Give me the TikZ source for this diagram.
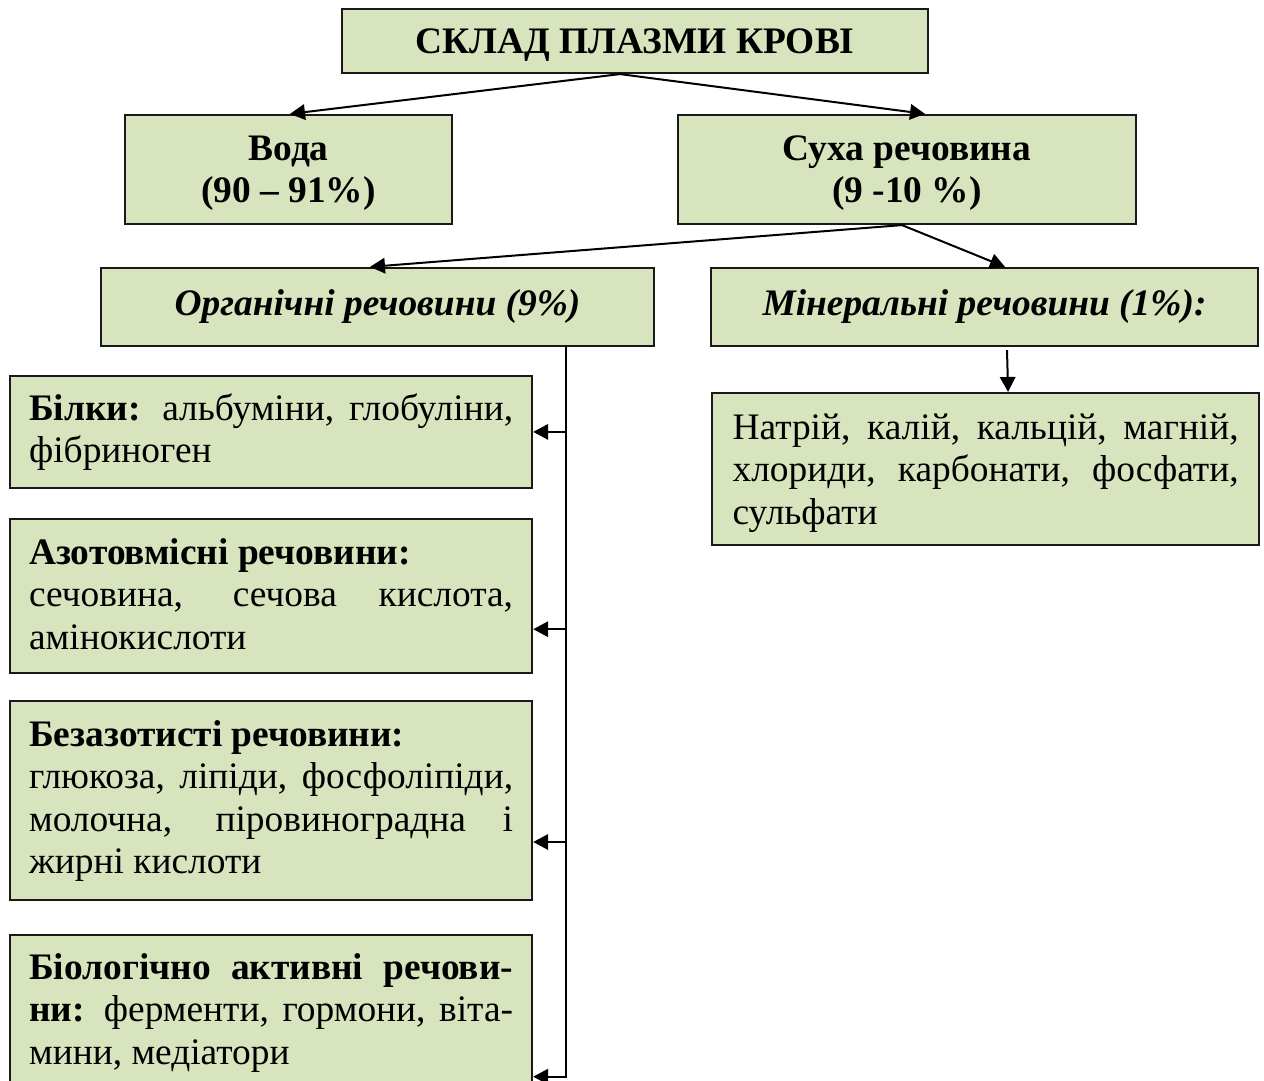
\documentclass[tikz,border=0pt]{standalone}
\usepackage{fontspec}
\setmainfont{Liberation Serif}
\usetikzlibrary{arrows.meta}
\definecolor{boxfill}{HTML}{D7E4BD}
\hyphenpenalty=10000
\tolerance=10000
\newcommand\topst[1]{\leavevmode\rule{0pt}{#1pt}}
\newcommand\botst[1]{\rule[-#1pt]{0pt}{#1pt}}
\begin{document}
\begin{tikzpicture}[x=1pt,y=1pt,
  box/.style={draw=black!90, line width=2.2pt, fill=boxfill, inner sep=0pt},
  cbox/.style={box, align=center, font=\bfseries\fontsize{37.4}{42}\selectfont},
  ibox/.style={cbox, font=\bfseries\itshape\fontsize{37.4}{42.5}\selectfont},
  tbox/.style={box, anchor=north west, align=justify, inner xsep=19pt, text width=484pt, font=\fontsize{37.4}{42.6}\selectfont},
  arr/.style={line width=2pt, -{Triangle[length=15pt,width=15.5pt]}}]
\clip (0,0) rectangle (1264,-1081);
\fill[white] (0,0) rectangle (1264,-1081);

\node[cbox, text depth=0pt, minimum width=586pt, minimum height=64pt] (title) at (635,-41) {СКЛАД ПЛАЗМИ КРОВІ};
\node[cbox, text depth=0pt, minimum width=327pt, minimum height=109pt] (voda) at (288.5,-169.5) {Вода\\(90 – 91\%)};
\node[cbox, text depth=0pt, minimum width=458pt, minimum height=109pt] (sukha) at (907,-169.5) {Суха речовина\\(9 -10 \%)};
\node[ibox, minimum width=553pt, minimum height=78pt] (org) at (377.5,-307) {Органічні речовини (9\%)};
\node[ibox, minimum width=547pt, minimum height=78pt] (min) at (984.5,-307) {Мінеральні речовини (1\%):};

\node[tbox, inner xsep=20.5pt, text width=506pt] (natr) at (711,-392) {\topst{46}Натрій, калій, кальцій, магній,\linebreak хлориди, карбонати, фосфати,\linebreak сульфати\botst{21}};

\node[tbox] (bilky) at (9,-375) {\topst{44}\textbf{Білки:} альбуміни, глобуліни,\linebreak фібриноген\botst{25}};
\node[tbox] (azot) at (9,-518) {\topst{45}\textbf{Азотовмісні речовини:}\\ сечовина, сечова кислота,\linebreak амінокислоти\botst{24}};
\node[tbox] (bezaz) at (9,-700) {\topst{45}\textbf{Безазотисті речовини:}\\ глюкоза, ліпіди, фосфоліпіди,\linebreak молочна, піровиноградна і\linebreak жирні кислоти\botst{26}};
\node[tbox] (biol) at (9,-934) {\topst{44}\textbf{Біологічно активні речови-}\linebreak \textbf{ни:} ферменти, гормони, віта-\linebreak мини, медіатори\botst{26}};

\draw[arr] ([xshift=-15pt]title.south) -- ([xshift=1.5pt]voda.north);
\draw[arr] ([xshift=-15pt]title.south) -- ([xshift=18pt]sukha.north);
\draw[arr] ([xshift=-5pt]sukha.south) -- ([xshift=-7.5pt]org.north);
\draw[arr] ([xshift=-5pt]sukha.south) -- ([xshift=20.5pt]min.north);
\draw[arr] ([xshift=22.5pt,yshift=-3pt]min.south) -- ([xshift=22.5pt]natr.north);

\coordinate (trunk) at ([xshift=188.5pt]org.south);
\coordinate (ea) at (bilky.east);
\coordinate (eb) at ([yshift=-33pt]azot.east);
\coordinate (ec) at ([yshift=-41.5pt]bezaz.east);
\coordinate (ed) at ([yshift=-64pt]biol.east);
\draw[arr] (trunk) |- (ed);
\draw[arr] (trunk |- ea) -- (ea);
\draw[arr] (trunk |- eb) -- (eb);
\draw[arr] (trunk |- ec) -- (ec);
\end{tikzpicture}
\end{document}
